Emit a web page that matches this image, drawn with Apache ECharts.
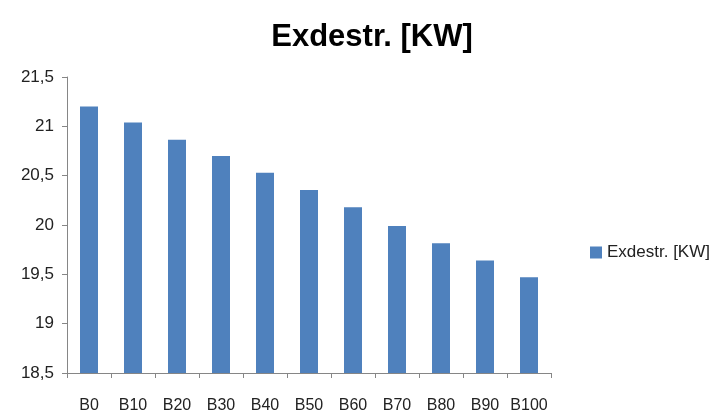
<!DOCTYPE html>
<html>
<head>
<meta charset="utf-8">
<script src="https://cdn.jsdelivr.net/npm/echarts@6/dist/echarts.min.js"></script>
<style>
  html, body { margin: 0; padding: 0; background: #fff; }
  #chart { width: 717px; height: 417px; }
</style>
</head>
<body>
<div id="chart"></div>
<script>
// Exergy destruction per blend
const categories = ['B0', 'B10', 'B20', 'B30', 'B40', 'B50', 'B60', 'B70', 'B80', 'B90', 'B100'];
const exdestr = [21.2, 21.04, 20.865, 20.7, 20.53, 20.355, 20.18, 19.99, 19.815, 19.64, 19.47];
const seriesName = 'Exdestr. [KW]';
const chartTitle = 'Exdestr. [KW]';

const FONT = '"Liberation Sans", Arial, sans-serif';
const chart = echarts.init(document.getElementById('chart'), null, { renderer: 'canvas' });

chart.setOption({
  animation: false,
  backgroundColor: '#ffffff',
  title: {
    text: chartTitle,
    left: 367,
    top: 17,
    textAlign: 'center',
    textStyle: { fontFamily: FONT, fontSize: 31, fontWeight: 'bold', color: '#000' }
  },
  legend: {
    data: [seriesName],
    left: 585,
    top: 239,
    itemWidth: 12,
    itemHeight: 12,
    itemGap: 6,
    icon: 'rect',
    textStyle: { fontFamily: FONT, fontSize: 17, color: '#222' }
  },
  grid: { left: 67, right: 166, top: 77, bottom: 44, containLabel: false },
  xAxis: {
    type: 'category',
    data: categories,
    axisLine: { lineStyle: { color: '#868686', width: 1 } },
    axisTick: { show: true, inside: false, length: 5, alignWithLabel: false, interval: 0, lineStyle: { color: '#868686' } },
    axisLabel: { interval: 0, hideOverlap: false, margin: 25, fontFamily: FONT, fontSize: 16, color: '#222' },
    splitLine: { show: false }
  },
  yAxis: {
    type: 'value',
    min: 18.5,
    max: 21.5,
    interval: 0.5,
    axisLine: { show: true, lineStyle: { color: '#868686', width: 1 } },
    axisTick: { show: true, inside: false, length: 5, lineStyle: { color: '#868686' } },
    axisLabel: {
      margin: 13,
      fontFamily: FONT,
      fontSize: 17,
      color: '#222',
      formatter: v => String(Math.round(v * 10) / 10).replace('.', ',')
    },
    splitLine: { show: false }
  },
  series: [{
    name: seriesName,
    type: 'bar',
    data: exdestr,
    barWidth: 18,
    itemStyle: { color: '#4F81BD' }
  }]
});
</script>
</body>
</html>
